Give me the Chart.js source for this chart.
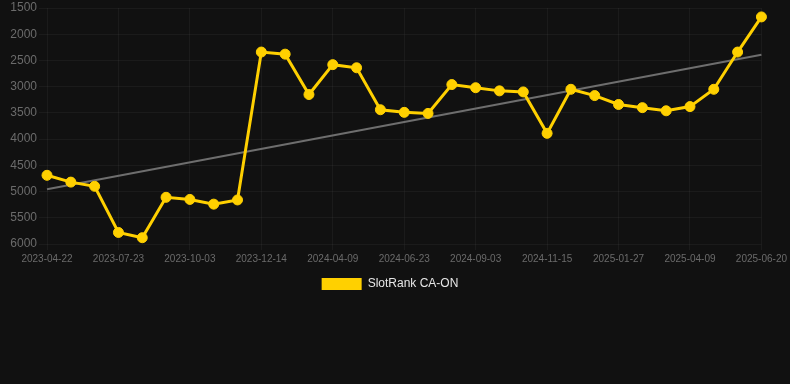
<!DOCTYPE html>
<html>
<head>
<meta charset="utf-8">
<script src="https://cdn.jsdelivr.net/npm/chart.js@4.4.1/dist/chart.umd.min.js"></script>
<style>
  html, body { margin: 0; padding: 0; background: #111111; }
  #wrap { width: 790px; height: 384px; }
</style>
</head>
<body>
<div id="wrap"><canvas id="rankChart"></canvas></div>
<script>
// Dates of each rank snapshot (every 3rd one is shown on the axis)
const dateLabels = [
  '2023-04-22', '2023-05-22', '2023-06-22', '2023-07-23', '2023-08-15', '2023-09-09',
  '2023-10-03', '2023-10-27', '2023-11-20', '2023-12-14', '2024-01-22', '2024-03-01',
  '2024-04-09', '2024-05-04', '2024-05-29', '2024-06-23', '2024-07-17', '2024-08-10',
  '2024-09-03', '2024-09-27', '2024-10-22', '2024-11-15', '2024-12-09', '2025-01-03',
  '2025-01-27', '2025-02-20', '2025-03-16', '2025-04-09', '2025-05-03', '2025-05-27',
  '2025-06-20'
];

const rankValues = [
  4690, 4820, 4900, 5780, 5880, 5110, 5150, 5240, 5160, 2340, 2380,
  3150, 2580, 2640, 3440, 3490, 3510, 2960, 3020, 3080, 3100, 3890,
  3050, 3170, 3340, 3400, 3460, 3380, 3050, 2340, 1670
];

// trend line end points
const trendStart = 4955;
const trendEnd = 2390;

const yTicks = [1500, 2000, 2500, 3000, 3500, 4000, 4500, 5000, 5500, 6000];

const gridColor = 'rgba(255,255,255,0.045)';
const tickColor = '#6b6b6b';
const lineColor = '#FFD000';
const fontFamily = 'Liberation Sans, Arial, sans-serif';

const ctx = document.getElementById('rankChart').getContext('2d');
const rankChart = new Chart(ctx, {
  type: 'line',
  data: {
    labels: dateLabels,
    datasets: [
      {
        label: 'SlotRank CA-ON',
        data: rankValues,
        borderColor: lineColor,
        backgroundColor: lineColor,
        borderWidth: 3,
        pointRadius: 5,
        pointBorderWidth: 1,
        pointBackgroundColor: lineColor,
        pointBorderColor: lineColor,
        tension: 0,
        fill: false,
        order: 1
      },
      {
        label: 'trend',
        data: [
          { x: dateLabels[0], y: trendStart },
          { x: dateLabels[dateLabels.length - 1], y: trendEnd }
        ],
        borderColor: '#6e6e6e',
        borderWidth: 2,
        pointRadius: 0,
        fill: false,
        order: 2
      }
    ]
  },
  options: {
    responsive: true,
    maintainAspectRatio: false,
    animation: false,
    layout: { padding: { left: 0, right: 10, top: 0, bottom: 84 } },
    plugins: {
      legend: {
        display: true,
        position: 'bottom',
        labels: {
          color: '#e6e6e6',
          boxWidth: 40,
          boxHeight: 12,
          font: { family: fontFamily, size: 12 },
          filter: (item) => item.text !== 'trend',
          generateLabels: (chart) => {
            const items = Chart.defaults.plugins.legend.labels.generateLabels(chart);
            return items.map(item => ({ ...item, lineWidth: 0 }));
          }
        }
      },
      tooltip: { enabled: false }
    },
    scales: {
      x: {
        grid: { color: gridColor, tickLength: 6 },
        border: { display: false },
        ticks: {
          color: tickColor,
          autoSkip: false,
          maxRotation: 0,
          font: { family: fontFamily, size: 10 },
          callback: function (value, index) {
            return index % 3 === 0 ? this.getLabelForValue(value) : null;
          }
        }
      },
      y: {
        reverse: true,
        min: 1500,
        max: 6000,
        afterBuildTicks: (axis) => { axis.ticks = yTicks.map(v => ({ value: v })); },
        afterFit: (axis) => { axis.width = 47; },
        grid: { color: gridColor, tickLength: 8 },
        border: { display: false },
        ticks: {
          color: tickColor,
          padding: 2,
          font: { family: fontFamily, size: 12, lineHeight: 1 },
          callback: (value) => String(value)
        }
      }
    }
  }
});
</script>
</body>
</html>
